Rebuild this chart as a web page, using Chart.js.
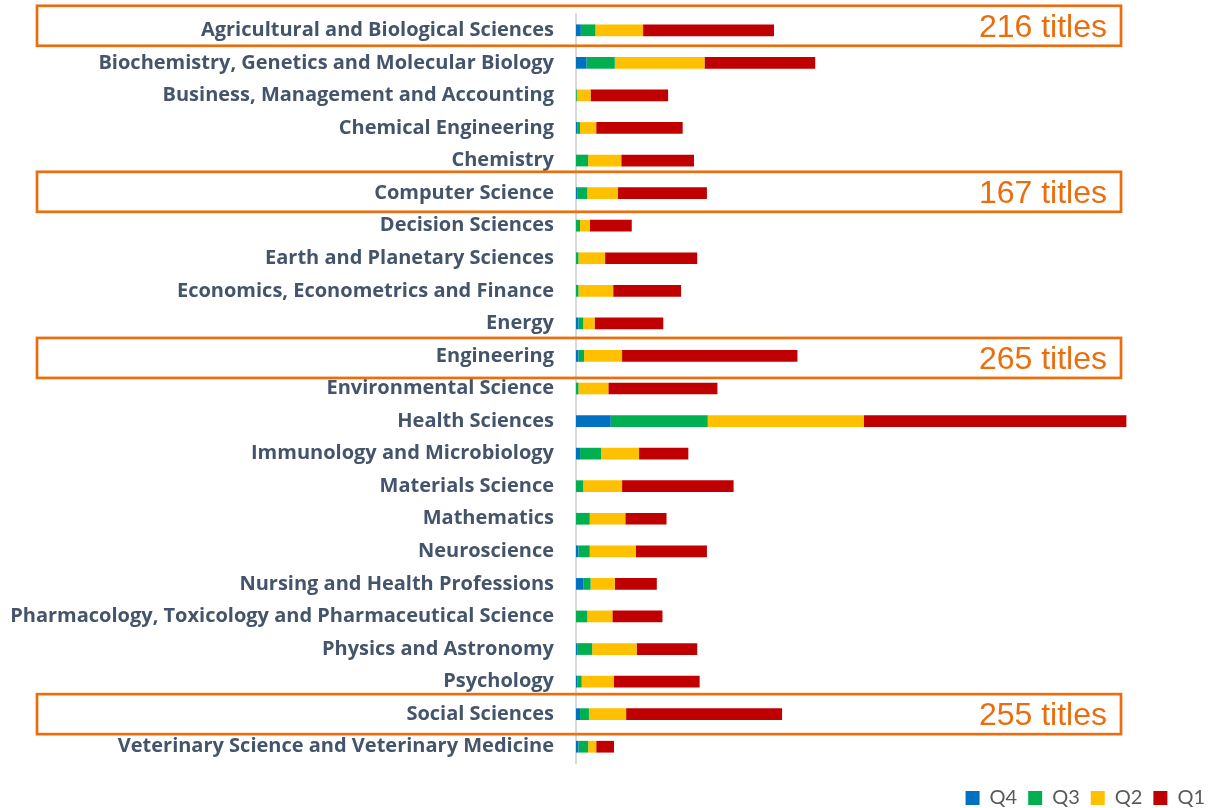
<!DOCTYPE html>
<html>
<head>
<meta charset="utf-8">
<script src="https://cdn.jsdelivr.net/npm/chart.js@4"></script>
<style>
html,body{margin:0;padding:0;background:#fff;}
#wrap{width:1208px;height:808px;position:relative;}
</style>
</head>
<body>
<div id="wrap"><canvas id="c" width="1208" height="808"></canvas></div>
<script>
const categories = [
  'Agricultural and Biological Sciences',
  'Biochemistry, Genetics and Molecular Biology',
  'Business, Management and Accounting',
  'Chemical Engineering',
  'Chemistry',
  'Computer Science',
  'Decision Sciences',
  'Earth and Planetary Sciences',
  'Economics, Econometrics and Finance',
  'Energy',
  'Engineering',
  'Environmental Science',
  'Health Sciences',
  'Immunology and Microbiology',
  'Materials Science',
  'Mathematics',
  'Neuroscience',
  'Nursing and Health Professions',
  'Pharmacology, Toxicology and Pharmaceutical Science',
  'Physics and Astronomy',
  'Psychology',
  'Social Sciences',
  'Veterinary Science and Veterinary Medicine'
];
const seriesNames = ['Q4', 'Q3', 'Q2', 'Q1'];
const q4 = [6, 13, 0, 2, 0, 2, 0, 0, 0, 3, 3, 0, 43, 5, 0, 0, 3, 9, 0, 2, 2, 5, 3];
const q3 = [18, 35, 1, 3, 15, 12, 5, 3, 3, 6, 7, 3, 120, 26, 9, 17, 14, 9, 14, 18, 5, 11, 12];
const q2 = [59, 111, 17, 20, 41, 38, 12, 33, 43, 14, 47, 37, 193, 47, 48, 44, 57, 30, 31, 55, 40, 46, 10];
const q1 = [162, 137, 96, 107, 90, 110, 52, 114, 84, 85, 217, 135, 325, 61, 138, 51, 88, 52, 62, 75, 106, 193, 22];
const highlightCategories = ['Agricultural and Biological Sciences', 'Computer Science', 'Engineering', 'Social Sciences'];
const highlightLabels = ['216 titles', '167 titles', '265 titles', '255 titles'];

const colors = ['#0070C0', '#00B050', '#FFC000', '#C00000'];
const seriesData = [q4, q3, q2, q1];

const highlightPlugin = {
  id: 'highlightBoxes',
  afterLayout(chart, args, opts) {
    const lg = chart.legend;
    if (lg) {
      const fs = lg.options.labels.font.size;
      const itemH = Math.max(lg.options.labels.boxHeight, fs);
      const center = lg.top + lg.options.labels.padding + itemH / 2;
      const shift = opts.legendCenterY - center;
      lg.top += shift;
      lg.bottom += shift;
      lg.left += opts.legendShiftX;
      lg.right += opts.legendShiftX;
    }
  },
  afterDatasetsDraw(chart, args, opts) {
    const ctx = chart.ctx;
    const y = chart.scales.y;
    ctx.save();
    highlightCategories.forEach((cat, i) => {
      const idx = categories.indexOf(cat);
      const cy = y.getPixelForValue(idx) + (opts.yOffsets[i] || 0);
      ctx.strokeStyle = opts.color;
      ctx.lineWidth = 2.7;
      ctx.strokeRect(opts.left, cy - opts.half, opts.right - opts.left, opts.half * 2);
      ctx.fillStyle = opts.color;
      ctx.font = opts.font;
      ctx.textAlign = 'right';
      ctx.textBaseline = 'middle';
      ctx.fillText(highlightLabels[i], opts.textRight, cy + 2);
    });
    ctx.restore();
  }
};

new Chart(document.getElementById('c'), {
  type: 'bar',
  data: {
    labels: categories,
    datasets: seriesNames.map((n, i) => ({
      label: n,
      data: seriesData[i],
      backgroundColor: colors[i],
      borderWidth: 0,
      barPercentage: 0.36,
      categoryPercentage: 1.0
    }))
  },
  options: {
    indexAxis: 'y',
    responsive: false,
    animation: false,
    layout: { padding: { top: 14, right: 0, left: 0, bottom: 4 } },
    scales: {
      x: { stacked: true, display: false, min: 0, max: 782 },
      y: {
        stacked: true,
        grid: { display: false, drawTicks: false },
        border: { display: true, color: '#D9D9D9', width: 2 },
        ticks: {
          padding: 22,
          color: '#44546A',
          font: { family: '"Open Sans"', weight: 'bold', size: 20 },
          autoSkip: false
        },
        afterFit(scale) {
          scale.width = 576;
          scale.paddingTop = 0;
          scale.paddingBottom = 0;
        }
      }
    },
    plugins: {
      legend: {
        position: 'bottom',
        align: 'end',
        labels: {
          boxWidth: 14,
          boxHeight: 14,
          padding: 11,
          color: '#595959',
          font: { family: 'Lato', size: 20 }
        }
      },
      tooltip: { enabled: false },
      highlightBoxes: {
        color: '#EA6E0E',
        left: 37,
        right: 1121,
        half: 20,
        yOffsets: [-4.5, -1.3, 2, 0],
        textRight: 1107,
        legendCenterY: 798,
        legendShiftX: 8,
        font: '32px "Liberation Sans", Arial, sans-serif'
      }
    }
  },
  plugins: [highlightPlugin]
});
</script>
</body>
</html>
